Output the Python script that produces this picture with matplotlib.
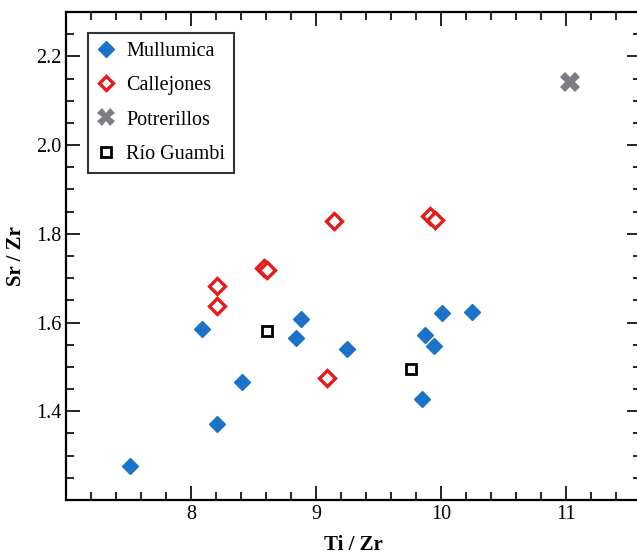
import numpy as np
import matplotlib
matplotlib.use("Agg")
import matplotlib.pyplot as plt
from matplotlib.ticker import MultipleLocator

plt.rcParams['font.family'] = ['Liberation Serif', 'DejaVu Serif']

# Mullumica
mul_x = [7.51, 8.085, 8.205, 8.41, 8.84, 8.88, 9.25, 9.85, 9.87, 9.94, 10.01, 10.25]
mul_y = [1.276, 1.586, 1.371, 1.466, 1.565, 1.608, 1.541, 1.428, 1.571, 1.548, 1.622, 1.623]
# Callejones
cal_x = [8.205, 8.205, 8.58, 8.61, 9.085, 9.14, 9.91, 9.95]
cal_y = [1.682, 1.638, 1.723, 1.719, 1.475, 1.830, 1.840, 1.832]
# Potrerillos
pot_x = [11.03]
pot_y = [2.142]
# Rio Guambi
rio_x = [8.61, 9.76]
rio_y = [1.582, 1.496]

fig = plt.figure(figsize=(6.37, 5.57), dpi=100)
ax = fig.add_axes([66/637, 57/557, 575/637, 488/557])

ax.plot(mul_x, mul_y, 'D', color='#1a72c9', ms=8.5, mec='#1a72c9', ls='none', label='Mullumica')
ax.plot(cal_x, cal_y, 'D', mfc='white', mec='#e31b1b', mew=2.4, ms=8.3, ls='none', label='Callejones')
ax.plot(pot_x, pot_y, 'X', color='#7a7e84', ms=14, mec='#7a7e84', mew=0, ls='none', label='Potrerillos')
ax.plot(rio_x, rio_y, 's', mfc='white', mec='black', mew=2, ms=7.5, ls='none', label='Río Guambi')

ax.set_xlim(7.0, 11.6)
ax.set_ylim(1.2, 2.3)
ax.xaxis.set_minor_locator(MultipleLocator(0.2))
ax.yaxis.set_minor_locator(MultipleLocator(0.05))
ax.set_xticks([8, 9, 10, 11])
ax.set_yticks([1.4, 1.6, 1.8, 2.0, 2.2])
ax.tick_params(which='both', direction='in', top=True, right=True, labelsize=14.5, width=1.2)
ax.tick_params(which='major', length=10)
ax.tick_params(which='minor', length=5.5)
for s in ax.spines.values():
    s.set_linewidth(1.6)

ax.set_xlabel('Ti / Zr', fontsize=15, fontweight='bold', labelpad=8)
ax.set_ylabel('Sr / Zr', fontsize=15, fontweight='bold', labelpad=7)

leg = ax.legend(loc='upper left', bbox_to_anchor=(0.038, 0.957), borderaxespad=0,
                fontsize=14.5, frameon=True, fancybox=False, edgecolor='black',
                handlelength=0.9, handletextpad=0.55, labelspacing=0.75,
                borderpad=0.45, markerscale=0.9)
leg.get_frame().set_linewidth(1.5)

fig.savefig('out.png', dpi=100)
